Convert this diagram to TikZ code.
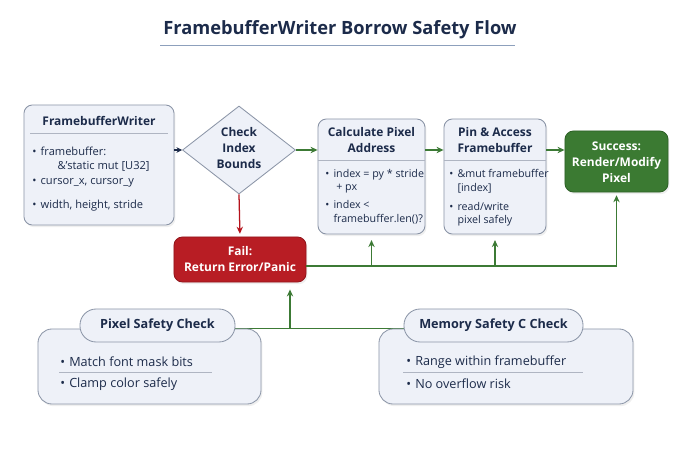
\documentclass[tikz,border=0pt]{standalone}
\usepackage{fontspec}
\setmainfont{Open Sans}
\usepackage{tikz}
\usetikzlibrary{shapes}
\usetikzlibrary{arrows.meta}
\usetikzlibrary{calc}
\usetikzlibrary{backgrounds}
\usetikzlibrary{shadows}

\definecolor{ink}{HTML}{1C2B4A}
\definecolor{boxfill}{HTML}{EEF1F8}
\definecolor{edge}{HTML}{8C96A8}
\definecolor{okgreen}{HTML}{3C7A35}
\definecolor{okfill}{HTML}{3B7A32}
\definecolor{badred}{HTML}{B5121B}
\definecolor{badfill}{HTML}{B81D24}
\definecolor{rule}{HTML}{8DA0BC}

\newcommand{\bl}{\textbullet\hspace{3pt}}
\newcommand{\hdfont}{\fontsize{8.5}{11.4}\selectfont\bfseries}
\newcommand{\bdfont}{\fontsize{7.6}{9.6}\selectfont}

\begin{document}
\begin{tikzpicture}[x=0.025cm, y=-0.025cm, text=ink,
  panel/.style={draw=edge, fill=boxfill, rounded corners=6pt, line width=0.6pt,
    drop shadow={opacity=0.12, shadow xshift=1pt, shadow yshift=-1.5pt}},
  pill/.style={draw=edge, fill=boxfill, rounded corners=11.5pt, line width=0.6pt,
    minimum height=0.825cm, font=\fontsize{9}{11}\selectfont\bfseries},
  head/.style={font=\hdfont, align=center},
  item/.style={font=\bdfont, align=left, anchor=west, inner sep=0pt},
  bigitem/.style={font=\fontsize{9}{10}\selectfont, anchor=west, inner sep=0pt},
  split/.style={draw=edge!70, line width=0.5pt},
  okline/.style={draw=okgreen, line width=0.9pt},
  okarrow/.style={okline, -{Stealth[length=5pt, width=4.5pt]}},
]
\useasboundingbox (0,0) rectangle (680,453);
\begin{scope}[on background layer]
\fill[white] (0,0) rectangle (680,453);
\end{scope}

% title
\node[font=\fontsize{13}{15}\selectfont\bfseries, text=ink] (title) at (340,30) {FramebufferWriter Borrow Safety Flow};
\draw[rule, line width=0.6pt] (160,45) -- (515,45);

% top row
\node[panel, minimum width=3.75cm, minimum height=3cm] (fw) at (99,165) {};
\node[head] (fwhead) at (99,121) {FramebufferWriter};
\draw[split] (30,133) -- (168,133);
\node[item, font=\fontsize{7.9}{10}\selectfont] (fw1) at (32,159) {\bl framebuffer:\\\hspace{18pt}\&'static mut [U32]};
\node[item, font=\fontsize{7.9}{10}\selectfont] (fw2) at (32,183) {\bl cursor\_x, cursor\_y};
\node[item, font=\fontsize{7.9}{10}\selectfont] (fw3) at (32,206) {\bl width, height, stride};

\node[diamond, draw=edge, fill=boxfill, line width=0.6pt, minimum width=2.825cm, minimum height=2.2cm, inner sep=0pt] (chk) at (239,150) {};
\node[head] (chklbl) at (239,148) {Check\\Index\\Bounds};

\node[panel, minimum width=2.675cm, minimum height=2.875cm] (calc) at (371.5,176.5) {};
\node[head] (calchead) at (371.5,140) {Calculate Pixel\\Address};
\draw[split] (calc.west |- 0,160) -- (calc.east |- 0,160);
\node[item] (c1) at (325,181) {\bl index = py * stride\\\phantom{\bl}\hspace{2pt}+ px};
\node[item] (c2) at (325,212.5) {\bl index <\\\phantom{\bl}framebuffer.len()?};

\node[panel, minimum width=2.55cm, minimum height=2.875cm] (pin) at (495,176.5) {};
\node[head] (pinhead) at (495,140) {Pin \& Access\\Framebuffer};
\draw[split] (pin.west |- 0,160) -- (pin.east |- 0,160);
\node[item] (p1) at (449,181.5) {\bl \&mut framebuffer\\\phantom{\bl}[index]};
\node[item] (p2) at (449,214) {\bl read/write\\\phantom{\bl}pixel safely};

\node[panel, draw=okfill!80!black, fill=okfill, minimum width=2.575cm, minimum height=1.525cm] (succ) at (616.5,161.5) {};
\node[head, text=white] (succlbl) at (616.5,162) {Success:\\Render/Modify\\Pixel};

\node[panel, draw=badfill!80!black, fill=badfill, minimum width=3.3cm, minimum height=1.125cm] (fail) at (240,259.5) {};
\node[head, text=white] (faillbl) at (240,259) {Fail:\\Return Error/Panic};

% flow arrows
\draw[draw=ink, line width=0.9pt, -{Stealth[length=4pt, width=4pt]}] (fw.east |- chk.west) -- (chk.west);
\draw[okarrow] (chk.east) -- (calc.west |- chk.east);
\draw[okarrow] (calc.east |- chk.east) -- (pin.west |- chk.east);
\draw[okarrow] (pin.east |- chk.east) -- (succ.west |- chk.east);
\draw[draw=badred, line width=0.9pt, -{Stealth[length=5pt, width=4.5pt]}, shorten >=2pt] (chk.south) -- (fail.north);

% return line
\coordinate (jr) at (617,266);
\draw[okarrow, shorten >=2pt] (fail.east |- jr) -| (succ.south);
\draw[okarrow, shorten >=4pt] (calc.south |- jr) -- (calc.south);
\draw[okarrow, shorten >=4pt] (pin.south |- jr) -- (pin.south);

% bottom checks
\node[panel, rounded corners=10pt, minimum width=5.575cm, minimum height=1.875cm] (pixbox) at (149.5,366.5) {};
\node[pill, minimum width=3.875cm] (pixpill) at (157.5,325.5) {Pixel Safety Check};
\node[bigitem] (px1) at (60,362) {\bl Match font mask bits};
\draw[split] (59,372) -- (212,372);
\node[bigitem] (px2) at (60,384) {\bl Clamp color safely};

\node[panel, rounded corners=10pt, minimum width=6.35cm, minimum height=1.875cm] (membox) at (506,366.5) {};
\node[pill, minimum width=4.475cm] (mempill) at (493.5,325.5) {Memory Safety C Check};
\node[bigitem] (m1) at (406,362) {\bl Range within framebuffer};
\draw[split] (403,372) -- (583,372);
\node[bigitem] (m2) at (406,384) {\bl No overflow risk};

\begin{scope}[on background layer]
\draw[okline] (pixpill.east |- pixbox.north) -- (mempill.west |- membox.north);
\end{scope}
\coordinate (jn) at (290,329);
\draw[okarrow, shorten >=5pt] (jn) -- (jn |- fail.south);
\end{tikzpicture}
\end{document}
